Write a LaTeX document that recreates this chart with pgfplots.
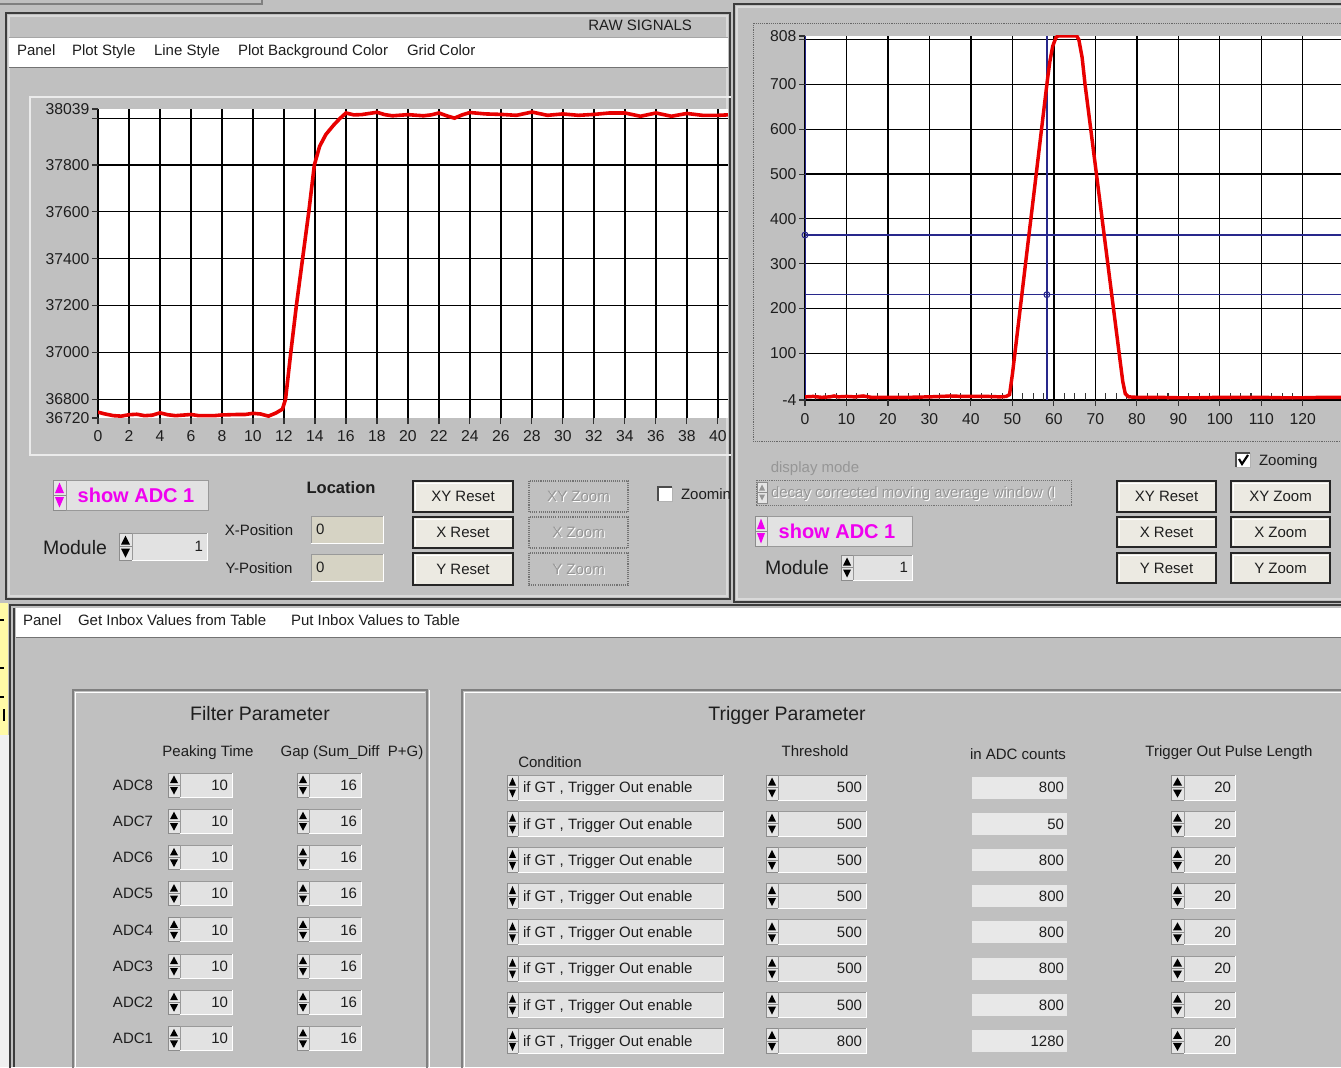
\documentclass[border=0pt]{standalone}
\usepackage{pgfplots}
\pgfplotsset{compat=1.18}
\usepackage{fontspec}
\setmainfont{Liberation Sans}
\definecolor{panel}{RGB}{192,192,192}
\definecolor{fieldbg}{RGB}{226,226,226}
\definecolor{locbg}{RGB}{214,211,196}
\definecolor{btnbg}{RGB}{236,234,226}
\definecolor{txt}{RGB}{30,30,30}
\definecolor{mag}{RGB}{240,0,240}
\definecolor{sig}{RGB}{232,0,0}
\definecolor{cur}{RGB}{40,40,140}
\definecolor{winedge}{RGB}{60,60,60}
\definecolor{dis}{RGB}{150,150,150}
\tikzset{
 tn/.style={font=\fontsize{11.25}{13}\selectfont, text=txt, text height=8.05pt, text depth=0pt},
 tl/.style={font=\fontsize{14.6}{16}\selectfont, text=txt, text height=10.45pt, text depth=0pt},
 tb/.style={font=\bfseries\fontsize{15}{17}\selectfont, text=mag, text height=10.75pt, text depth=0pt},
 tloc/.style={font=\bfseries\fontsize{12.4}{14}\selectfont, text=txt, text height=8.9pt, text depth=0pt},
}
\newcommand\spin[5]{%
  \fill[black!10] (#1,#2) rectangle (#3,#4);
  \draw[black!45,line width=0.5pt] (#1,#2) rectangle (#3,#4);
  \draw[black!45,line width=0.5pt] (#1,{(#2+#4)/2}) -- (#3,{(#2+#4)/2});
  \fill[#5] ({(#1+#3)/2},{#2+2.5}) -- ({#3-2},{(#2+#4)/2-2}) -- ({#1+2},{(#2+#4)/2-2}) -- cycle;
  \fill[#5] ({(#1+#3)/2},{#4-2.5}) -- ({#3-2},{(#2+#4)/2+2}) -- ({#1+2},{(#2+#4)/2+2}) -- cycle;}
\newcommand\fld[6]{%
  \fill[#6] (#1,#2) rectangle (#3,#4);
  \draw[black!40,line width=0.5pt] (#1,#4) -- (#1,#2) -- (#3,#2);
  \draw[white,line width=0.5pt] (#1,#4) -- (#3,#4) -- (#3,#2);
  \node[tn,anchor=east] at ({#3-4},{(#2+#4)/2}) {#5};}
\newcommand\fldL[6]{%
  \fill[#6] (#1,#2) rectangle (#3,#4);
  \draw[black!40,line width=0.5pt] (#1,#4) -- (#1,#2) -- (#3,#2);
  \draw[white,line width=0.5pt] (#1,#4) -- (#3,#4) -- (#3,#2);
  \node[tn,anchor=west] at ({#1+5},{(#2+#4)/2}) {#5};}
\newcommand\btn[5]{%
  \fill[btnbg] (#1,#2) rectangle (#3,#4);
  \draw[black!85,line width=1.4pt] (#1,#2) rectangle (#3,#4);
  \draw[white,line width=0.6pt] ({#1+2.5},{#4-2.5}) -- ({#1+2.5},{#2+2.5}) -- ({#3-2.5},{#2+2.5});
  \node[tn] at ({(#1+#3)/2},{(#2+#4)/2}) {#5};}
\newcommand\dbtn[5]{%
  \draw[black!55,line width=0.8pt,dash pattern=on 0.8pt off 0.8pt] (#1,#2) rectangle (#3,#4);
  \node[tn,text=white] at ({(#1+#3)/2+1},{(#2+#4)/2+1}) {#5};
  \node[tn,text=dis] at ({(#1+#3)/2},{(#2+#4)/2}) {#5};}
\begin{document}
\begin{tikzpicture}[x=0.75pt,y=-0.75pt,every node/.style={inner sep=0pt,outer sep=0pt}]
\useasboundingbox (0,0) rectangle (1341,1067);
\clip (0,0) rectangle (1341,1067);
\fill[panel] (0,0) rectangle (1341,1067);
% ================= LEFT WINDOW =================
\draw[black!50,line width=0.8pt] (0,4) -- (262,4) -- (262,0);
\draw[winedge,line width=1.5pt] (6,13) rectangle (730,599);
\draw[black!15,line width=0.8pt] (9,16) rectangle (727,596);
\node[tn,anchor=east] at (692,25) {RAW SIGNALS};
\fill[white] (9,37) rectangle (728,67);
\draw[black!35,line width=0.6pt] (9,37) -- (728,37);
\draw[black!55,line width=0.6pt] (9,67) -- (728,67);
\node[tn,anchor=west] at (17,50) {Panel};
\node[tn,anchor=west] at (72,50) {Plot Style};
\node[tn,anchor=west] at (154,50) {Line Style};
\node[tn,anchor=west] at (238,50) {Plot Background Color};
\node[tn,anchor=west] at (407,50) {Grid Color};
\draw[black!8,line width=1.2pt] (30,97) rectangle (760,455);
\coordinate (LA) at (98,418);
\begin{axis}[at={(LA)}, anchor=south west, scale only axis,
  width=472.5pt, height=231.75pt,
  xmin=0, xmax=40.65, ymin=36720, ymax=38039,
  axis background/.style={fill=white},
  axis line style={draw=none},
  xtick={0,2,...,40},
  ytick={36800,37000,37200,37400,37600,37800,38000},
  yticklabels={36800,37000,37200,37400,37600,37800,{}},
  extra y ticks={36720,38039}, extra y tick labels={36720,38039},
  extra y tick style={grid=none},
  grid=major, grid style={black, line width=0.9pt},
  tick align=outside, major tick length=4.5pt,
  tick style={black!80, line width=0.8pt},
  xtick pos=left, ytick pos=left,
  tick label style={font=\fontsize{11.8}{12}\selectfont, text=txt},
  yticklabel style={xshift=-2pt}, xticklabel style={yshift=-5pt},
  /pgf/number format/assume math mode=true, scaled ticks=false]
\addplot[sig, line width=2.7pt] coordinates {
(0,36745)(0.4,36738)(1,36730)(1.5,36728)(2,36734)(2.5,36736)(3,36730)(3.5,36732)
(4,36742)(4.5,36734)(5,36730)(6,36735)(6.5,36730)(7.5,36730)(8,36733)(9,36735)
(9.5,36735)(10,36740)(10.5,36737)(11,36728)(11.5,36742)(11.9,36758)(12.1,36800)
(12.44,37000)(12.8,37200)(13.2,37400)(13.6,37600)(13.96,37800)(14.3,37880)
(14.7,37930)(15.2,37970)(15.6,37998)(16,38022)(16.5,38014)(17,38015)(17.5,38020)
(18,38025)(18.5,38015)(19,38010)(20,38015)(21,38010)(21.5,38014)(22,38022)
(22.5,38010)(23,38000)(23.5,38014)(24,38024)(25,38018)(26,38016)(27,38012)
(28,38026)(29,38012)(30,38018)(31,38012)(32,38016)(33,38022)(34,38022)(35,38008)
(36,38022)(37,38008)(38,38020)(39,38012)(40,38012)(40.65,38014)};
\end{axis}
% left controls
\spin{53}{480}{66}{510}{mag}
\fill[fieldbg] (66,480) rectangle (208,510);
\draw[black!40,line width=0.5pt] (66,480) rectangle (208,510);
\node[tb] at (136,495) {show ADC 1};
\node[tloc] at (341,488) {Location};
\node[tl] at (75,548) {Module};
\spin{119}{533}{132}{560}{black}
\fld{132}{533}{207}{560}{1}{fieldbg}
\node[tn] at (259,530) {X-Position};
\node[tn] at (259,568) {Y-Position};
\fldL{311}{516}{383}{543}{0}{locbg}
\fldL{311}{554}{383}{581}{0}{locbg}
\btn{413}{481}{513}{512}{XY Reset}
\btn{413}{517}{513}{548}{X Reset}
\btn{413}{553}{513}{585}{Y Reset}
\dbtn{529}{481}{628}{512}{XY Zoom}
\dbtn{529}{517}{628}{548}{X Zoom}
\dbtn{529}{553}{628}{585}{Y Zoom}
\fill[white] (658,487) rectangle (672,501);
\draw[black!70,line width=0.8pt] (658,501) -- (658,487) -- (672,487);
\draw[black!30,line width=0.6pt] (658,501) -- (672,501) -- (672,487);
\node[tn,anchor=west] at (681,494) {Zooming};
% ================= RIGHT WINDOW =================
\fill[panel] (731,0) rectangle (1341,603);
\draw[winedge,line width=1.5pt] (734,4) rectangle (1360,602);
\draw[black!15,line width=0.8pt] (737,7) rectangle (1360,599);
\draw[black!60,line width=0.6pt,dash pattern=on 0.7pt off 0.7pt] (753,23) rectangle (1360,441);
\coordinate (RA) at (805,400);
\begin{axis}[at={(RA)}, anchor=south west, scale only axis,
  width=402pt, height=273pt,
  xmin=0, xmax=129.2, ymin=-4, ymax=808,
  axis background/.style={fill=white},
  axis line style={draw=none},
  xtick={0,10,...,120}, minor x tick num=3,
  ytick={-4,100,200,300,400,500,600,700,800},
  yticklabels={-4,100,200,300,400,500,600,700,{}},
  extra y ticks={808}, extra y tick labels={808},
  extra y tick style={grid=none},
  grid=major, grid style={black, line width=0.9pt},
  tick align=outside, major tick length=4.5pt, minor tick length=5pt,
  tick style={black!80, line width=0.8pt},
  minor x tick style={yshift=5pt},
  xtick pos=left, ytick pos=left,
  tick label style={font=\fontsize{11.8}{12}\selectfont, text=txt},
  yticklabel style={xshift=-2pt}, xticklabel style={yshift=-6pt},
  /pgf/number format/assume math mode=true, scaled ticks=false]
\draw[cur, line width=1.2pt] (axis cs:0,364) -- (axis cs:129.2,364);
\draw[cur, line width=1.2pt] (axis cs:0,231) -- (axis cs:129.2,231);
\addplot[cur, line width=1.1pt] coordinates {(58.3,-4) (58.3,808)};
\addplot[cur, line width=2pt] coordinates {(0,-4) (0,808)};
\addplot[sig, line width=2.6pt] coordinates {
(0,3)(2,4)(4,2)(6,3)(7,5)(8,3)(10,4)(12,3)(14,5)(16,2)(20,2)(25,2)(30,3)(33,4)
(35,5)(38,4)(40,4)(44,4)(47,3)(48.5,4)(49.3,8)(50,54)(51,132)(52,210)(53,288)
(54,366)(55,443)(56,521)(57,599)(58,677)(58.5,715)(59,750)(59.7,785)(60.5,805)
(61,808)(65.5,808)(66,800)(66.8,760)(67.5,700)(68,664)(69,591)(70,518)(71,445)
(72,372)(73,299)(74,226)(75,153)(76,80)(76.6,37)(77.2,10)(78,3)(80,2)(85,2)
(90,1)(95,1)(100,2)(105,2)(110,2)(115,1)(120,1)(125,2)(129.2,2)};
\addplot[cur, only marks, mark=o, mark size=2.2pt, mark options={fill=white, line width=0.8pt}]
  coordinates {(58.3,231) (0,364)};
\end{axis}
% right controls
\node[tn,text=dis] at (815,467) {display mode};
\draw[black!55,line width=0.6pt,dash pattern=on 0.7pt off 0.7pt] (756,480) rectangle (1071,505);
\spin{757}{482}{767}{503}{dis}
\node[tn,anchor=west,text=white] at (772,493.5) {decay corrected moving average window (l};
\node[tn,anchor=west,text=dis] at (771,492.5) {decay corrected moving average window (l};
\fill[white] (1236,453) rectangle (1250,467);
\draw[black!70,line width=0.8pt] (1236,467) -- (1236,453) -- (1250,453);
\draw[black!30,line width=0.6pt] (1236,467) -- (1250,467) -- (1250,453);
\draw[black,line width=1.6pt] (1239,459) -- (1242,464) -- (1248,455);
\node[tn,anchor=west] at (1259,460) {Zooming};
\spin{755}{516}{767}{546}{mag}
\fill[fieldbg] (767,516) rectangle (912,546);
\draw[black!40,line width=0.5pt] (767,516) rectangle (912,546);
\node[tb] at (837,531) {show ADC 1};
\node[tl] at (797,568) {Module};
\spin{841}{555}{853}{580}{black}
\fld{853}{555}{912}{580}{1}{fieldbg}
\btn{1117}{481}{1216}{512}{XY Reset}
\btn{1117}{517}{1216}{547}{X Reset}
\btn{1117}{553}{1216}{583}{Y Reset}
\btn{1231}{481}{1330}{512}{XY Zoom}
\btn{1231}{517}{1330}{547}{X Zoom}
\btn{1231}{553}{1330}{583}{Y Zoom}
% ================= BOTTOM WINDOW =================
\fill[panel] (0,603) rectangle (1341,1067);
\fill[yellow!35] (0,603) rectangle (8,735);
\draw[black,line width=0.8pt] (0,620) -- (4,620) (0,668) -- (4,668) (0,697) -- (4,697);
\draw[black,line width=1.6pt] (4,709) -- (4,721);
\fill[black!6] (0,735) rectangle (9,1067);
\draw[winedge,line width=1.5pt] (10,605) rectangle (1360,1090);
\draw[winedge,line width=0.8pt] (14,608) -- (14,1067);
\fill[white] (16,608) rectangle (1341,637);
\draw[black!55,line width=0.6pt] (16,637) -- (1341,637);
\node[tn,anchor=west] at (23,620) {Panel};
\node[tn,anchor=west] at (78,620) {Get Inbox Values from Table};
\node[tn,anchor=west] at (291,620) {Put Inbox Values to Table};
% group boxes
\draw[black!50,line width=1pt] (73,690) rectangle (427,1090);
\draw[white,line width=0.7pt] (75,692) -- (425,692) (75,692) -- (75,1090) (429,690) -- (429,1090);
\draw[black!50,line width=1pt] (462,690) rectangle (1360,1090);
\draw[white,line width=0.7pt] (464,692) -- (1360,692) (464,692) -- (464,1090);
\node[tl] at (260,714) {Filter Parameter};
\node[tl] at (787,714) {Trigger Parameter};
\node[tn] at (208,751) {Peaking Time};
\node[tn] at (352,751) {Gap (Sum\_Diff\ \ P+G)};
\node[tn] at (550,762) {Condition};
\node[tn] at (815,751) {Threshold};
\node[tn] at (1018,754) {in ADC counts};
\node[tn] at (1229,751) {Trigger Out Pulse Length};
\foreach \i/\lab in {0/8,1/7,2/6,3/5,4/4,5/3,6/2,7/1} {
  \pgfmathsetmacro\yc{785+36.2*\i}
  \node[tn] at (133,\yc) {ADC\lab};
  \spin{168}{\yc-12}{180}{\yc+12}{black}
  \fld{180}{\yc-12}{232}{\yc+12}{10}{fieldbg}
  \spin{297}{\yc-12}{309}{\yc+12}{black}
  \fld{309}{\yc-12}{361}{\yc+12}{16}{fieldbg}
}
\foreach \i/\thr/\cnt in {0/500/800,1/500/50,2/500/800,3/500/800,4/500/800,5/500/800,6/500/800,7/800/1280} {
  \pgfmathsetmacro\yc{787.5+36.2*\i}
  \spin{507}{\yc-12.5}{518}{\yc+12.5}{black}
  \fldL{518}{\yc-12.5}{723}{\yc+12.5}{if GT , Trigger Out enable}{fieldbg}
  \spin{766}{\yc-12.5}{778}{\yc+12.5}{black}
  \fld{778}{\yc-12.5}{866}{\yc+12.5}{\thr}{fieldbg}
  \fill[black!9] (972,\yc-11) rectangle (1067,\yc+11);
  \node[tn,anchor=east] at (1064,\yc) {\cnt};
  \spin{1171}{\yc-12.5}{1184}{\yc+12.5}{black}
  \fld{1184}{\yc-12.5}{1235}{\yc+12.5}{20}{fieldbg}
}
\end{tikzpicture}
\end{document}
